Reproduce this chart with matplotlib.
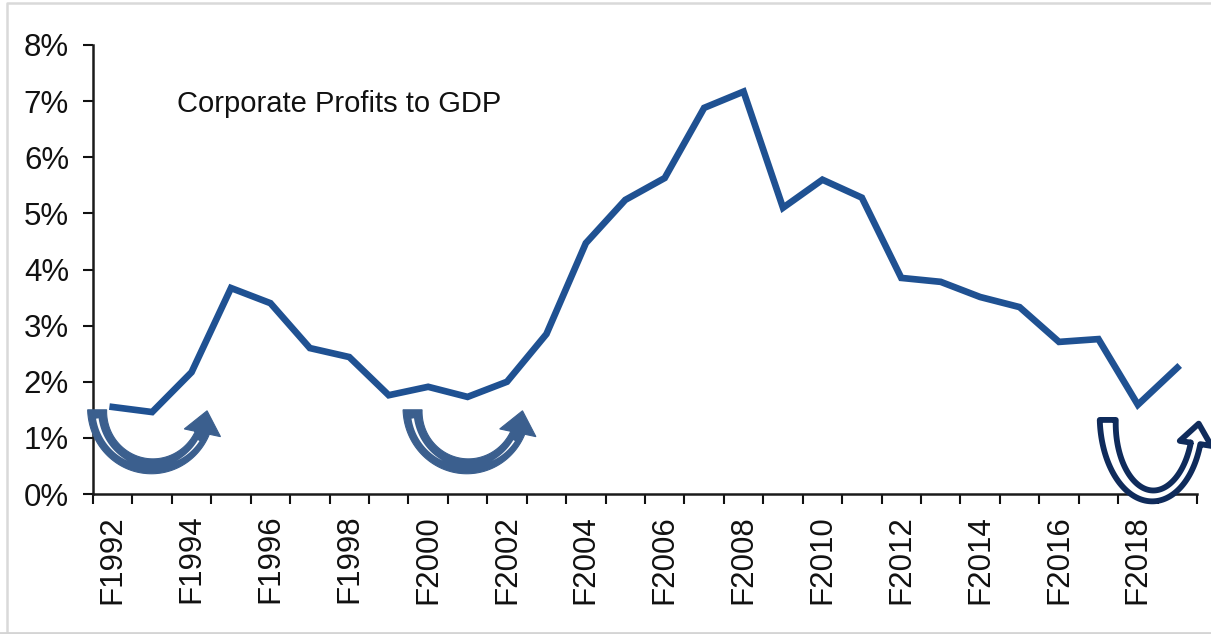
import numpy as np
import matplotlib
matplotlib.use('Agg')
import matplotlib.pyplot as plt
import matplotlib.transforms as mtransforms
from matplotlib.patches import Polygon
from matplotlib.lines import Line2D

plt.rcParams['font.family'] = ['Liberation Sans', 'DejaVu Sans']

# data (fiscal years)
years = list(range(1992, 2020))
profits = [1.55, 1.46, 2.17, 3.67, 3.40, 2.60, 2.44, 1.76, 1.91, 1.73, 2.00, 2.85,
           4.47, 5.24, 5.63, 6.88, 7.17, 5.10, 5.60, 5.28, 3.85, 3.78, 3.51, 3.33,
           2.71, 2.76, 1.59, 2.25]
label_years = years[::2]
tick_labels = ['F%d' % y for y in label_years]
y_ticks = list(range(0, 9))
y_labels = ['%d%%' % v for v in y_ticks]
title = 'Corporate Profits to GDP'

line_color = '#1f5192'

fig = plt.figure(figsize=(12.11, 6.34), dpi=100)
W, H = 1211, 634
ax = fig.add_axes([93 / W, (H - 494) / H, 1104 / W, 449 / H])

x = np.arange(len(years))
ax.plot(x, profits, color=line_color, lw=4.8, zorder=3, solid_joinstyle='miter')

ax.set_xlim(-0.5, len(years) - 0.5)
ax.set_ylim(0, 8)

for s in ['top', 'right']:
    ax.spines[s].set_visible(False)
for s in ['left', 'bottom']:
    ax.spines[s].set_linewidth(1.8)
    ax.spines[s].set_color('#1a1a1a')

ax.set_yticks(y_ticks)
ax.set_yticklabels(y_labels, fontsize=22.5)
ax.tick_params(axis='y', direction='out', length=7.2, width=1.5, pad=10, colors='#111111')

# boundary ticks between categories, labels every other year at the centres
ax.set_xticks(np.arange(-0.5, len(years), 1.0))
ax.set_xticklabels([])
ax.tick_params(axis='x', which='major', direction='out', length=7.2, width=1.5, colors='#111111')
ax.set_xticks([years.index(y) for y in label_years], minor=True)
ax.set_xticklabels(tick_labels, minor=True, rotation=90, fontsize=22.5, va='top', ha='center')
ax.tick_params(axis='x', which='minor', length=0, pad=15, colors='#111111')

ax.text(0.076, 0.851, title, transform=ax.transAxes, fontsize=21, va='baseline', ha='left',
        color='#111111')


def u_arrow(a, b, w0, w1, phi_end, head_len, head_hw, head_ang):
    # curved "U" arrow outline, in pixel offsets from the anchor (y up)
    phi_end = np.radians(phi_end)
    phis = np.linspace(np.pi, phi_end, 90)
    t = (phis - phi_end) / (np.pi - phi_end)
    w = w1 + (w0 - w1) * t ** 2
    px = a * np.cos(phis)
    py = -b * np.sin(phis)
    nx = np.cos(phis) / a
    ny = -np.sin(phis) / b
    nn = np.hypot(nx, ny)
    nx, ny = nx / nn, ny / nn
    outer = np.column_stack([px + w * nx, py + w * ny])
    inner = np.column_stack([px - w * nx, py - w * ny])
    ha = np.radians(head_ang)
    u = np.array([np.cos(ha), np.sin(ha)])
    nb = np.array([np.sin(ha), -np.cos(ha)])
    pe = np.array([px[-1], py[-1]])
    head = [pe + w1 * nb, pe + head_hw * nb, pe + head_len * u, pe - head_hw * nb, pe - w1 * nb]
    verts = np.vstack([outer, head, inner[::-1]])
    return verts, (px, py, nx, ny, w, phis)


def anchor_trans(xc, yc):
    return (mtransforms.Affine2D().scale(1.0 / fig.dpi) + fig.dpi_scale_trans
            + mtransforms.ScaledTranslation(xc, yc, ax.transData))


# two lighter "bottoming" arrows, then the dark one at the end
arrow_x = [years.index(1993), years.index(2001)]
arrow_y = 1.50
for xc in arrow_x:
    verts, (px, py, nx, ny, w, phis) = u_arrow(55, 56.5, 9.5, 7, 24, 22.5, 18.5, 78)
    tr = anchor_trans(xc, arrow_y)
    ax.add_patch(Polygon(verts, closed=True, facecolor='#3b5f8e', edgecolor='#3b5f8e',
                         lw=0.8, joinstyle='miter', transform=tr, clip_on=False, zorder=5))
    # thin white highlight inside the band, only towards both ends
    c = np.abs(np.cos(phis))
    th = 2.6 * np.clip((c - 0.45) / 0.55, 0, None)
    off = 0.05 * w
    s1 = np.column_stack([px + (off + th / 2) * nx, py + (off + th / 2) * ny])
    s2 = np.column_stack([px + (off - th / 2) * nx, py + (off - th / 2) * ny])
    for sl in (slice(5, 45), slice(45, -5)):
        ax.add_patch(Polygon(np.vstack([s1[sl], s2[sl][::-1]]), closed=True, facecolor='white',
                             edgecolor='none', transform=tr, clip_on=False, zorder=6))

x3 = (1152 - 112.7) / 39.4
verts, _ = u_arrow(45, 76, 8, 4.8, 18, 20, 16, 81)
ax.add_patch(Polygon(verts, closed=True, facecolor='white', edgecolor='#0f2b5b', lw=4.2,
                     joinstyle='round', transform=anchor_trans(x3, 1.32), clip_on=False,
                     zorder=5))

# light grey frame of the original slide picture
fig.add_artist(Line2D([7 / W, 7 / W, 1.0], [0.0, 1 - 2.5 / H, 1 - 2.5 / H],
                      transform=fig.transFigure, color='#d9d9d9', lw=1.8))
fig.add_artist(Line2D([0.0, 1.0], [1.2 / H, 1.2 / H], transform=fig.transFigure,
                      color='#d4d4d4', lw=2))

fig.savefig('out.png', dpi=100)
